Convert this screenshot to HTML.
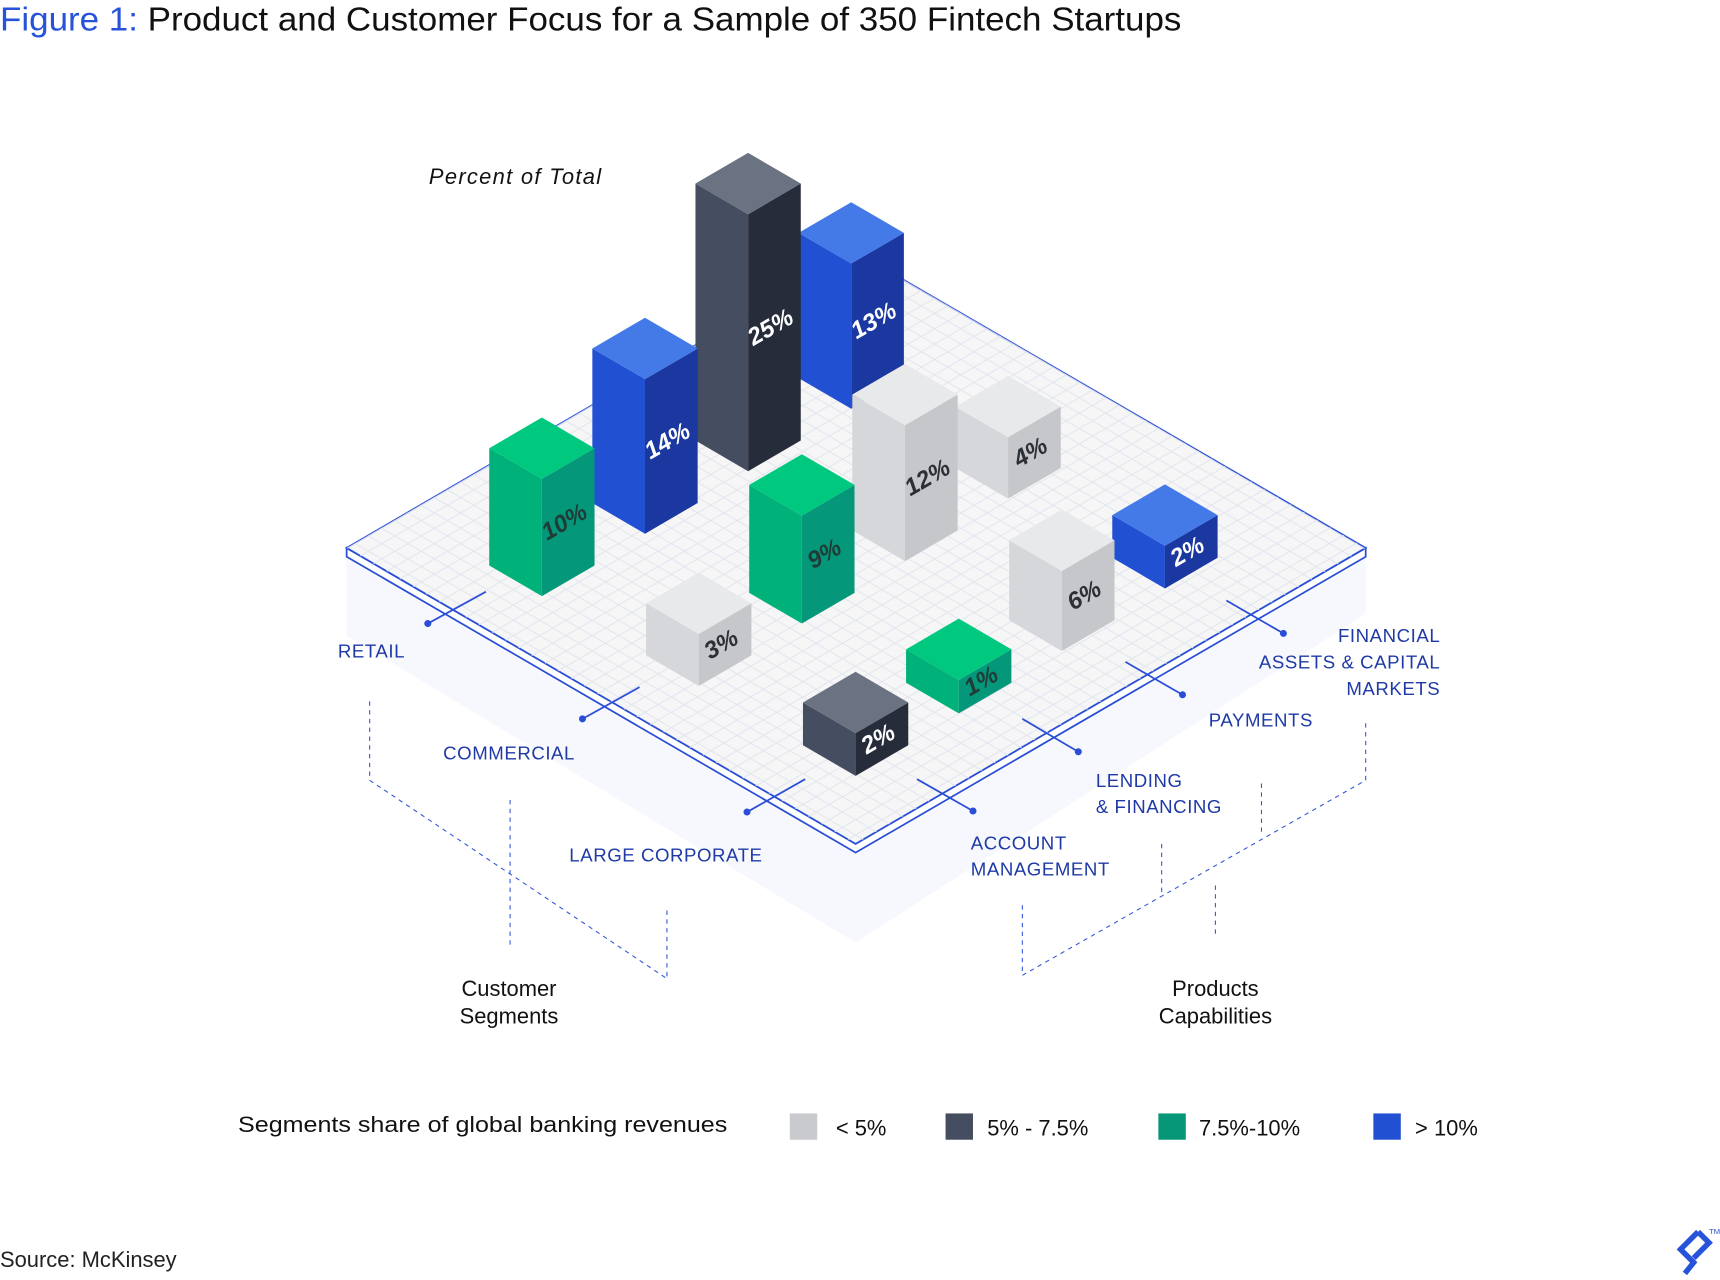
<!DOCTYPE html>
<html><head><meta charset="utf-8">
<style>
html,body{margin:0;padding:0;background:#fff;}
svg{display:block;font-family:"Liberation Sans",sans-serif;}
</style></head>
<body>
<svg id="chart" width="1720" height="1280" viewBox="0 0 1568 1168" preserveAspectRatio="none" xmlns="http://www.w3.org/2000/svg">
<defs>
<pattern id="grid" patternUnits="userSpaceOnUse" width="24" height="14" patternTransform="translate(780 230)">
<path d="M0 0 L24 14 M24 0 L0 14 M-24 0 L0 14 M24 14 L48 0" stroke="#e3e6ee" stroke-width="1" fill="none"/>
</pattern>
</defs>
<text x="0" y="28" font-size="30" fill="#111" textLength="1077" lengthAdjust="spacingAndGlyphs"><tspan fill="#2653d9">Figure 1:</tspan> Product and Customer Focus for a Sample of 350 Fintech Startups</text>
<text x="391" y="168" font-size="20" font-style="italic" fill="#111" textLength="157">Percent of Total</text>
<polygon points="316,510 780,780 1245,510 1245,560 780,860 316,580" fill="#f7f8fd"/>
<polygon points="316,500 780,770 1245,500 1245,508 780,778 316,508" fill="#fff" stroke="#2a4fd6" stroke-width="1.6"/>
<polygon points="780,230 1245,500 780,770 316,500" fill="#f6f6f7" stroke="#2a4fd6" stroke-width="1.6"/>
<polygon points="780,230 1245,500 780,770 316,500" fill="url(#grid)"/>
<g id="ticks"></g>
<g id="bars"></g>
<g stroke="#3558d8" stroke-width="1" stroke-dasharray="4,4" fill="none">
<path d="M337 640 L337 712 L608 893 L608 828"/>
<path d="M465 730 L465 865"/>
<path d="M1245 660 L1245 712 L932 890 L932 825"/>
<path d="M1150 715 L1150 762"/>
<path d="M1059 770 L1059 818"/>
<path d="M1108 808 L1108 855"/>
</g>
<g font-size="17" fill="#1f3aa6" letter-spacing="0.5">
<text x="308" y="600">RETAIL</text>
<text x="404" y="693">COMMERCIAL</text>
<text x="519" y="786">LARGE CORPORATE</text>
<text x="885" y="775"><tspan x="885">ACCOUNT</tspan><tspan x="885" dy="24">MANAGEMENT</tspan></text>
<text x="999" y="718"><tspan x="999">LENDING</tspan><tspan x="999" dy="24">&amp; FINANCING</tspan></text>
<text x="1102" y="663">PAYMENTS</text>
<text text-anchor="end" x="1313" y="586"><tspan x="1313">FINANCIAL</tspan><tspan x="1313" dy="24">ASSETS &amp; CAPITAL</tspan><tspan x="1313" dy="24">MARKETS</tspan></text>
</g>
<g font-size="20" fill="#111" text-anchor="middle">
<text x="464" y="909"><tspan x="464">Customer</tspan><tspan x="464" dy="25">Segments</tspan></text>
<text x="1108" y="909"><tspan x="1108">Products</tspan><tspan x="1108" dy="25">Capabilities</tspan></text>
</g>
<g font-size="20" fill="#111">
<text x="217" y="1033" textLength="446" lengthAdjust="spacingAndGlyphs">Segments share of global banking revenues</text>
<rect x="720" y="1016" width="25" height="24" fill="#c9cacd"/>
<text x="762" y="1036">&lt; 5%</text>
<rect x="862" y="1016" width="25" height="24" fill="#454e60"/>
<text x="900" y="1036">5% - 7.5%</text>
<rect x="1056" y="1016" width="25" height="24" fill="#069778"/>
<text x="1093" y="1036">7.5%-10%</text>
<rect x="1252" y="1016" width="25" height="24" fill="#2150d3"/>
<text x="1290" y="1036">&gt; 10%</text>
</g>
<text x="0" y="1156" font-size="20" fill="#222">Source: McKinsey</text>
<g fill="none" stroke="#2653d9" stroke-width="5">
<path d="M1548 1124 L1532 1140 L1544 1152 L1536 1162"/>
<path d="M1548 1124 L1558 1134 L1544 1148"/>
</g>
<text x="1558" y="1126" font-size="7" fill="#2653d9">TM</text>
</svg>
<script>
const segments = ["Retail","Commercial","Large Corporate"];
const products = ["Account Management","Lending & Financing","Payments","Financial Assets & Capital Markets"];
const values = [
  [10, 14, 25, 13],
  [3, 9, 12, 4],
  [2, 1, 6, 2]
];
const colorClasses = [
  ["green","blue","dark","blue"],
  ["gray","green","gray","gray"],
  ["dark","green","gray","blue"]
];
const palette = {
  gray:{top:"#e8e9eb",left:"#d6d7da",right:"#c6c7ca",text:"#2b2f36"},
  dark:{top:"#6b7383",left:"#454e60",right:"#262c3a",text:"#ffffff"},
  green:{top:"#00c97f",left:"#00b27a",right:"#04977a",text:"#1f3c36"},
  blue:{top:"#4479e8",left:"#2150d3",right:"#1a389f",text:"#ffffff"}
};
const NS="http://www.w3.org/2000/svg";
function xPos(r,c){return 494+r*143+c*94;}
function yPos(r,c){return 516+r*82-c*57;}
function hScale(v){return 22+8.5*v;}
const HW=48, HH=28;
const bars=document.getElementById('bars');
const order=[];
for(let r=0;r<segments.length;r++){for(let c=0;c<products.length;c++){order.push([r,c]);}}
order.sort((a,b)=>(yPos(a[0],a[1]))-(yPos(b[0],b[1])));
order.forEach(([r,c])=>{
  const v=values[r][c], p=palette[colorClasses[r][c]];
  const cx=xPos(r,c), cy=yPos(r,c), h=hScale(v);
  const g=document.createElementNS(NS,'g');
  
  
  const poly=(pts,fill,name)=>{
    const e=document.createElementNS(NS,'polygon');
    e.setAttribute('points',pts.map(q=>q.join(',')).join(' '));
    e.setAttribute('fill',fill);
    
    
    g.appendChild(e);
  };
  const B=[cx,cy+HH], L=[cx-HW,cy], R=[cx+HW,cy], T=[cx,cy-HH];
  const up=q=>[q[0],q[1]-h];
  poly([L,B,up(B),up(L)],p.left,'bar-left-face');
  poly([B,R,up(R),up(B)],p.right,'bar-right-face');
  poly([up(L),up(B),up(R),up(T)],p.top,'bar-top-face');
  const t=document.createElementNS(NS,'text');
  const tx=cx+HW/2, ty=cy+HH/2-h/2+6;
  t.setAttribute('x',tx);t.setAttribute('y',ty);
  t.setAttribute('text-anchor','middle');
  t.setAttribute('font-size','22');
  t.setAttribute('font-style','italic');
  t.setAttribute('font-weight','bold');
  t.setAttribute('fill',p.text);
  t.setAttribute('transform','rotate(-30 '+tx+' '+ty+')');
  t.textContent=v+'%';
  
  
  g.appendChild(t);
  bars.appendChild(g);
});
const ticks=document.getElementById('ticks');
const tickLines=[[443,540,390,569],[583,627,531,656],[734,711,681,741],[836,711,887,740],[932,656,983,686],[1026,604,1078,634],[1118,548,1170,578]];
tickLines.forEach(l=>{
  const ln=document.createElementNS(NS,'line');
  ln.setAttribute('x1',l[0]);ln.setAttribute('y1',l[1]);ln.setAttribute('x2',l[2]);ln.setAttribute('y2',l[3]);
  ln.setAttribute('stroke','#2a4fd6');ln.setAttribute('stroke-width','1.6');
  
  
  ticks.appendChild(ln);
  const d=document.createElementNS(NS,'circle');
  d.setAttribute('cx',l[2]);d.setAttribute('cy',l[3]);d.setAttribute('r','3.2');d.setAttribute('fill','#2a4fd6');
  
  
  ticks.appendChild(d);
});
</script>
</body></html>
